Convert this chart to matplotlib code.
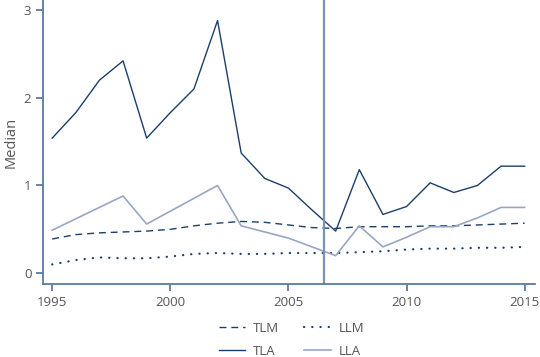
import matplotlib
matplotlib.use("Agg")
import matplotlib.pyplot as plt

plt.rcParams['font.family'] = ['Open Sans', 'DejaVu Sans']

years = list(range(1995, 2016))

# median TLA (solid, dark)
tla = [1.54, 1.83, 2.20, 2.42, 1.54, 1.83, 2.10, 2.88, 1.37, 1.08, 0.97,
       0.72, 0.48, 1.18, 0.67, 0.76, 1.03, 0.92, 1.00, 1.22, 1.22]

# median TLM (dashed)
tlm = [0.39, 0.44, 0.46, 0.47, 0.48, 0.50, 0.54, 0.57, 0.59, 0.58, 0.55,
       0.52, 0.51, 0.53, 0.53, 0.53, 0.54, 0.54, 0.55, 0.56, 0.57]

# median LLM (dotted)
llm = [0.10, 0.15, 0.18, 0.17, 0.17, 0.19, 0.22, 0.23, 0.22, 0.22, 0.23,
       0.23, 0.23, 0.24, 0.25, 0.27, 0.28, 0.28, 0.29, 0.29, 0.30]

# median LLA (light), only some years observed
lla_years = [1995, 1998, 1999, 2002, 2003, 2005, 2007, 2008, 2009, 2010,
             2011, 2012, 2013, 2014, 2015]
lla = [0.49, 0.88, 0.56, 1.00, 0.54, 0.40, 0.20, 0.54, 0.30, 0.41,
       0.53, 0.53, 0.63, 0.75, 0.75]

xticks = [1995, 2000, 2005, 2010, 2015]
yticks = [0, 1, 2, 3]
break_year = 2006.5

dark = '#1a3f6b'
light = '#98a6c6'
axis_col = '#5b7ba0'
text_col = '#555555'

fig = plt.figure(figsize=(5.4, 3.57), dpi=100)
ax = fig.add_axes([0.08, 0.204, 0.91, 0.796])

l1, = ax.plot(years, tlm, color=dark, lw=1.0, linestyle=(0, (5, 3.5)), label='TLM')
l2, = ax.plot(years, llm, color=dark, lw=1.6, linestyle=(0, (0.1, 3.6)),
              dash_capstyle='round', label='LLM')
l3, = ax.plot(years, tla, color=dark, lw=1.0, label='TLA')
l4, = ax.plot(lla_years, lla, color=light, lw=1.2, label='LLA')

ax.axvline(break_year, color='#7a93b3', lw=1.6)

ax.set_xlim(1994.62, 2015.42)
ax.set_ylim(-0.125, 3.114)
ax.set_xticks(xticks)
ax.set_yticks(yticks)

for s in ['top', 'right']:
    ax.spines[s].set_visible(False)
for s in ['left', 'bottom']:
    ax.spines[s].set_color(axis_col)
    ax.spines[s].set_linewidth(1.3)

ax.tick_params(axis='both', colors=axis_col, length=5, width=1.3,
               labelcolor=text_col, labelsize=9.5)
ax.set_ylabel('Median', color=text_col, fontsize=10.5, labelpad=4)

# legend rows: TLM LLM / TLA LLA (matplotlib fills by column)
fig.legend(handles=[l1, l3, l2, l4], labels=['TLM', 'TLA', 'LLM', 'LLA'],
           ncol=2, frameon=False, loc='lower center',
           bbox_to_anchor=(0.54, -0.035), fontsize=9.5, handlelength=2.0,
           handletextpad=0.6, columnspacing=1.9, labelcolor=text_col,
           labelspacing=0.75)

fig.savefig('out.png', dpi=100)
